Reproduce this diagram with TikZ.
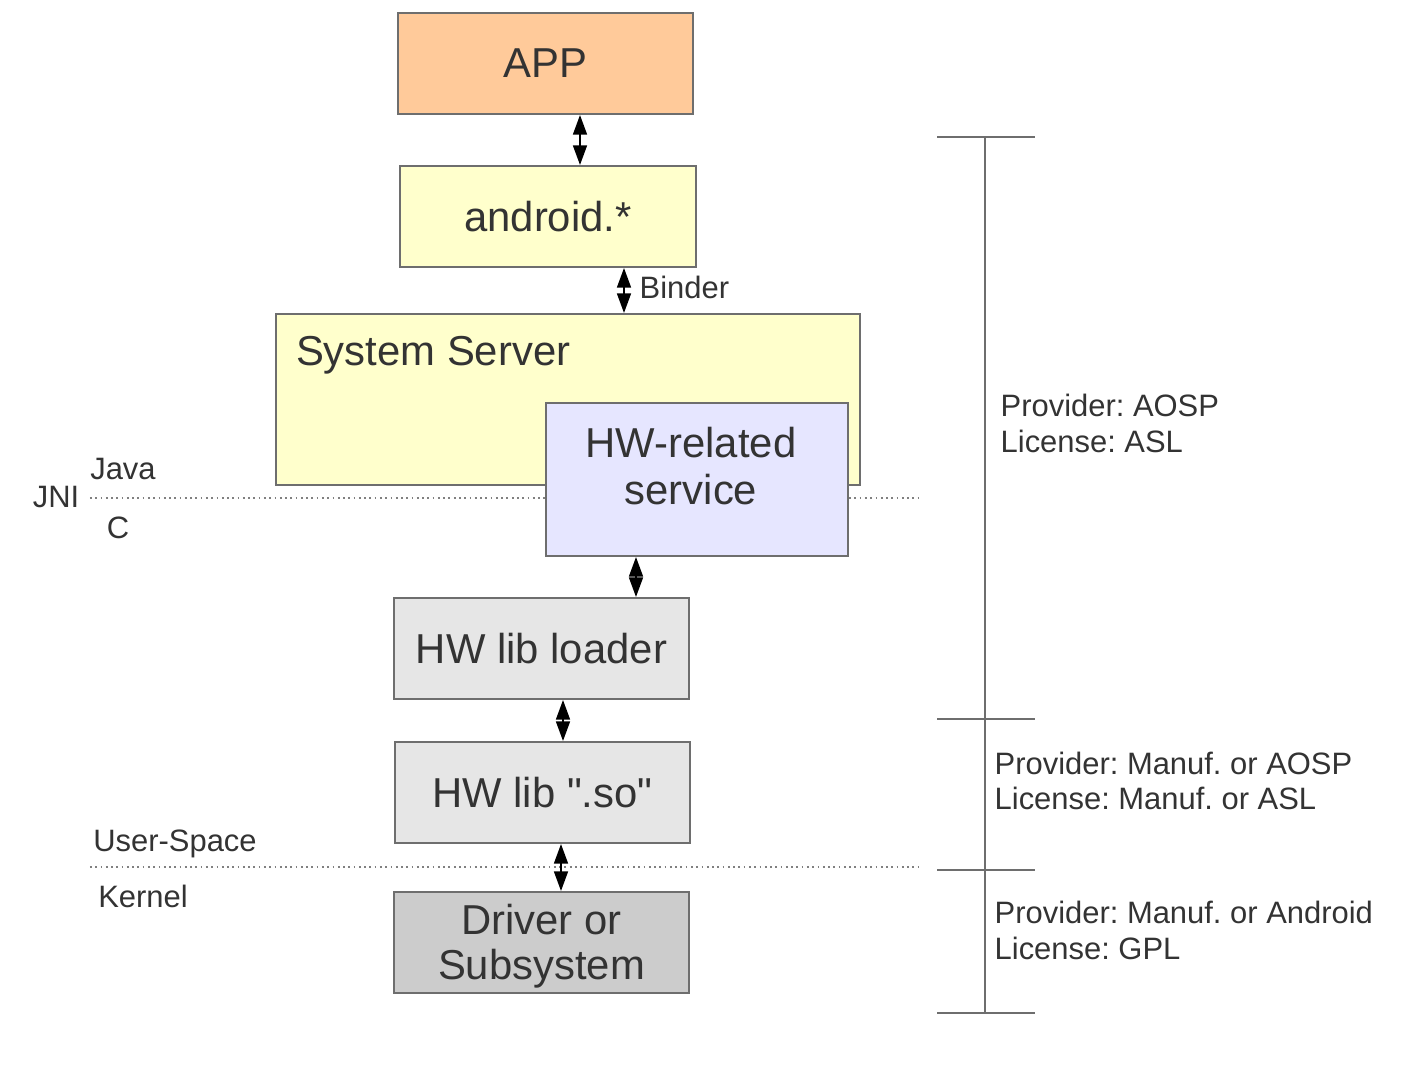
\documentclass[tikz,border=0pt]{standalone}
\usepackage{fontspec}
\setmainfont{Liberation Sans}
\usetikzlibrary{arrows.meta}
\frenchspacing
\definecolor{boxline}{HTML}{6E6E6E}
\definecolor{txt}{HTML}{333333}
\definecolor{appfill}{HTML}{FFCA9A}
\definecolor{javafill}{HTML}{FFFFCC}
\definecolor{hwfill}{HTML}{E6E6FF}
\definecolor{libfill}{HTML}{E6E6E6}
\definecolor{drvfill}{HTML}{CCCCCC}
\tikzset{
  layer/.style={draw=boxline, line width=0.6pt, text=txt, inner sep=0pt,
    font=\fontsize{11.9}{14}\selectfont, align=center},
  link/.style={{Triangle[length=1.95mm,width=1.4mm]}-{Triangle[length=1.95mm,width=1.4mm]}, line width=0.4pt, black},
  small/.style={text=txt, inner sep=0pt, font=\fontsize{8.8}{10}\selectfont},
  divider/.style={densely dotted, line width=0.5pt, gray},
  bar/.style={line width=0.6pt, boxline}
}
\begin{document}
\begin{tikzpicture}
\useasboundingbox (0,0) rectangle (14.02,-10.74);
% Java / C and user / kernel borders
\coordinate (jniL) at (0.9,-4.98);
\coordinate (jniR) at (9.2,-4.98);
\coordinate (usrL) at (0.9,-8.67);
\coordinate (usrR) at (9.2,-8.67);
\draw[divider] (jniL)--(jniR);
\draw[divider] (usrL)--(usrR);
\node[small, anchor=east] (jni) at (0.8,-4.97) {JNI};
\node[small] (java) at (1.23,-4.69) {Java};
\node[small] (clang) at (1.18,-5.28) {C};
\node[small] (user) at (1.75,-8.44) {User-Space};
\node[small] (kernel) at (1.43,-8.96) {Kernel};
% layers
\node[layer, fill=appfill, minimum width=2.95cm, minimum height=1.01cm] (app) at (5.455,-0.635) {APP};
\node[layer, fill=javafill, minimum width=2.96cm, minimum height=1.01cm] (android) at (5.48,-2.165) {android.*};
\node[layer, fill=javafill, minimum width=5.84cm, minimum height=1.71cm] (sysserver) at (5.68,-3.995) {};
\node[layer, draw=none, fill=none, anchor=west] (sstitle) at (2.95,-3.55) {System Server};
\node[layer, fill=hwfill, minimum width=3.02cm, minimum height=1.53cm] (hwsvc) at (6.97,-4.795) {};
\node[layer, draw=none, fill=none, font=\fontsize{11.9}{13.4}\selectfont] (hwtitle) at (6.91,-4.66) {HW-related\\service};
\node[layer, fill=libfill, minimum width=2.95cm, minimum height=1.01cm] (loader) at (5.415,-6.485) {HW lib loader};
\node[layer, fill=libfill, minimum width=2.95cm, minimum height=1.01cm] (libso) at (5.425,-7.925) {HW lib \textquotedbl.so\textquotedbl};
\node[layer, fill=drvfill, minimum width=2.95cm, minimum height=1.01cm] (driver) at (5.415,-9.425) {};
\node[layer, draw=none, fill=none, font=\fontsize{11.9}{12.9}\selectfont] (drvtitle) at (5.415,-9.465) {Driver or\\Subsystem};
% links
\draw[link] ([xshift=3.45mm]app.south) -- ([xshift=3.45mm]app.south |- android.north);
\draw[link] ([xshift=7.6mm]android.south) -- ([xshift=7.6mm]android.south |- sysserver.north);
\node[small, anchor=west] (binder) at (6.39,-2.87) {Binder};
\draw[link] ([xshift=-6.1mm]hwsvc.south) -- ([xshift=-6.1mm]hwsvc.south |- loader.north);
\draw[link] ([xshift=2.15mm]loader.south) -- ([xshift=2.15mm]loader.south |- libso.north);
\draw[link] ([xshift=1.85mm]libso.south) -- ([xshift=1.85mm]libso.south |- driver.north);
% provider / license scale
\coordinate (t0) at (9.85,-1.37);
\coordinate (t1) at (9.85,-7.19);
\coordinate (t2) at (9.85,-8.70);
\coordinate (t3) at (9.85,-10.13);
\draw[bar] (t0)--(t3);
\foreach \t in {t0,t1,t2,t3}
  \draw[bar] ([xshift=-4.8mm]\t) -- ([xshift=5mm]\t);
\node[small, anchor=west, align=left] (aosp) at (10.0,-4.235) {Provider: AOSP\\License: ASL};
\node[small, anchor=west, align=left] (manuf) at (9.94,-7.81) {Provider: Manuf. or AOSP\\License: Manuf. or ASL};
\node[small, anchor=west, align=left] (gpl) at (9.94,-9.305) {Provider: Manuf. or Android\\License: GPL};
\end{tikzpicture}
\end{document}
